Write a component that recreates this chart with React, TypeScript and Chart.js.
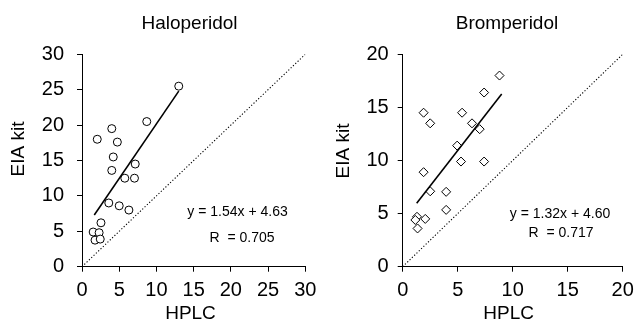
import React, { useEffect, useRef } from "react";
import { Chart, registerables } from "chart.js";

Chart.register(...registerables);

// ---------- data ----------
const haloX = [13.0, 8.7, 4.0, 2.05, 4.75, 4.2, 4.0, 7.15, 5.75, 7.05, 3.6, 5.0, 6.3, 2.55, 1.5, 2.3, 1.75, 2.45];
const haloY = [25.5, 20.5, 19.5, 18.0, 17.6, 15.5, 13.6, 14.5, 12.5, 12.5, 9.0, 8.6, 8.0, 6.2, 4.9, 4.8, 3.75, 3.9];
const haloFitX = [1.65, 13.0];
const haloFitY = [7.3, 24.8];
const haloTicks = [0, 5, 10, 15, 20, 25, 30];

const bromX = [8.8, 7.4, 1.9, 5.4, 2.5, 6.3, 7.0, 4.95, 5.3, 7.4, 1.9, 2.5, 3.95, 3.95, 1.3, 1.15, 2.05, 1.35];
const bromY = [18.0, 16.4, 14.5, 14.5, 13.5, 13.5, 12.95, 11.4, 9.9, 9.9, 8.9, 7.1, 7.05, 5.35, 4.7, 4.4, 4.5, 3.6];
const bromFitX = [1.27, 9.0];
const bromFitY = [5.97, 16.26];
const bromTicks = [0, 5, 10, 15, 20];

const FONT = "'Liberation Sans', Arial, sans-serif";

type TextCfg = {
  title: string;
  titleX: number;
  titleY: number;
  yLabelX: number;
  yLabelY: number;
  xLabelX: number;
  xLabelY: number;
  eq: string;
  eqX: number;
  eqY: number;
  r: string;
  rX: number;
  rY: number;
};

const textPlugin = {
  id: "texts",
  afterDraw(chart: any, _args: any, opts: TextCfg) {
    const ctx = chart.ctx;
    const xs = chart.scales.x;
    const ys = chart.scales.y;
    ctx.save();
    ctx.fillStyle = "#000";
    ctx.textAlign = "center";
    ctx.textBaseline = "alphabetic";
    ctx.font = `19px ${FONT}`;
    ctx.fillText(opts.title, opts.titleX, opts.titleY);
    ctx.fillText("HPLC", opts.xLabelX, opts.xLabelY);
    ctx.save();
    ctx.translate(opts.yLabelX, opts.yLabelY);
    ctx.rotate(-Math.PI / 2);
    ctx.textBaseline = "middle";
    ctx.fillText("EIA kit", 0, 0);
    ctx.restore();
    ctx.font = `14px ${FONT}`;
    ctx.fillText(opts.eq, xs.getPixelForValue(opts.eqX), ys.getPixelForValue(opts.eqY));
    ctx.fillText(opts.r, xs.getPixelForValue(opts.rX), ys.getPixelForValue(opts.rY));
    ctx.restore();
  },
};

function makeConfig(
  px: number[],
  py: number[],
  fx: number[],
  fy: number[],
  ticks: number[],
  pointStyle: string,
  radius: number,
  padding: { left: number; right: number; top: number; bottom: number },
  yTickPad: number,
  texts: TextCfg
): any {
  const max = ticks[ticks.length - 1];
  const axisCommon = {
    type: "linear",
    min: 0,
    max,
    grid: {
      display: true,
      drawOnChartArea: false,
      drawTicks: true,
      tickLength: 5,
      color: "#000",
      lineWidth: 1,
    },
    border: { display: true, color: "#000", width: 1 },
  };
  return {
    type: "scatter",
    data: {
      datasets: [
        {
          label: "identity",
          data: [
            { x: 0, y: 0 },
            { x: max, y: max },
          ],
          showLine: true,
          borderColor: "#000",
          borderWidth: 1.1,
          borderDash: [1.2, 2],
          pointRadius: 0,
        },
        {
          label: "fit",
          data: fx.map((x, i) => ({ x, y: fy[i] })),
          showLine: true,
          borderColor: "#000",
          borderWidth: 1.6,
          pointRadius: 0,
        },
        {
          label: "points",
          data: px.map((x, i) => ({ x, y: py[i] })),
          pointStyle,
          pointRadius: radius,
          pointBackgroundColor: "#fff",
          pointBorderColor: "#000",
          pointBorderWidth: 1,
          showLine: false,
        },
      ],
    },
    options: {
      responsive: false,
      animation: false,
      devicePixelRatio: 1,
      layout: { padding },
      plugins: {
        legend: { display: false },
        tooltip: { enabled: false },
        title: { display: false },
        texts,
      },
      scales: {
        x: {
          ...axisCommon,
          position: "bottom",
          afterBuildTicks: (s: any) => {
            s.ticks = ticks.map((v) => ({ value: v }));
          },
          afterFit: (s: any) => {
            s.height = 30;
            s.paddingLeft = 0;
            s.paddingRight = 0;
          },
          ticks: {
            color: "#000",
            padding: 7,
            maxRotation: 0,
            autoSkip: false,
            font: { family: FONT, size: 20 },
          },
        },
        y: {
          ...axisCommon,
          position: "left",
          afterBuildTicks: (s: any) => {
            s.ticks = ticks.map((v) => ({ value: v }));
          },
          afterFit: (s: any) => {
            s.width = 40;
            s.paddingTop = 0;
            s.paddingBottom = 0;
          },
          ticks: {
            color: "#000",
            padding: yTickPad,
            autoSkip: false,
            font: { family: FONT, size: 20 },
          },
        },
      },
    },
    plugins: [textPlugin],
  };
}

function Panel(props: { config: any; left: number }) {
  const ref = useRef<HTMLCanvasElement | null>(null);
  useEffect(() => {
    if (!ref.current) return;
    const chart = new Chart(ref.current, props.config);
    return () => chart.destroy();
  }, []);
  return (
    <canvas
      ref={ref}
      width={317}
      height={322}
      style={{ position: "absolute", left: props.left, top: 0, width: 317, height: 322 }}
    />
  );
}

export default function App() {
  const left = makeConfig(
    haloX,
    haloY,
    haloFitX,
    haloFitY,
    haloTicks,
    "circle",
    4,
    { left: 42, right: 11.7, top: 54.3, bottom: 25.3 },
    13,
    {
      title: "Haloperidol",
      titleX: 189.5,
      titleY: 28.5,
      yLabelX: 18.5,
      yLabelY: 149,
      xLabelX: 190.5,
      xLabelY: 319,
      eq: "y = 1.54x + 4.63",
      eqX: 20.9,
      eqY: 7.2,
      r: "R  = 0.705",
      rX: 21.5,
      rY: 3.5,
    }
  );
  const right = makeConfig(
    bromX,
    bromY,
    bromFitX,
    bromFitY,
    bromTicks,
    "rectRot",
    4.5,
    { left: 45.7, right: 11.3, top: 54.3, bottom: 25.3 },
    9,
    {
      title: "Bromperidol",
      titleX: 190,
      titleY: 29,
      yLabelX: 26.7,
      yLabelY: 151,
      xLabelX: 191.7,
      xLabelY: 319,
      eq: "y = 1.32x + 4.60",
      eqX: 14.3,
      eqY: 4.56,
      r: "R  = 0.717",
      rX: 14.4,
      rY: 2.82,
    }
  );
  return (
    <div style={{ position: "fixed", left: 0, top: 0, width: 634, height: 322, background: "#fff" }}>
      <Panel config={left} left={0} />
      <Panel config={right} left={317} />
    </div>
  );
}
